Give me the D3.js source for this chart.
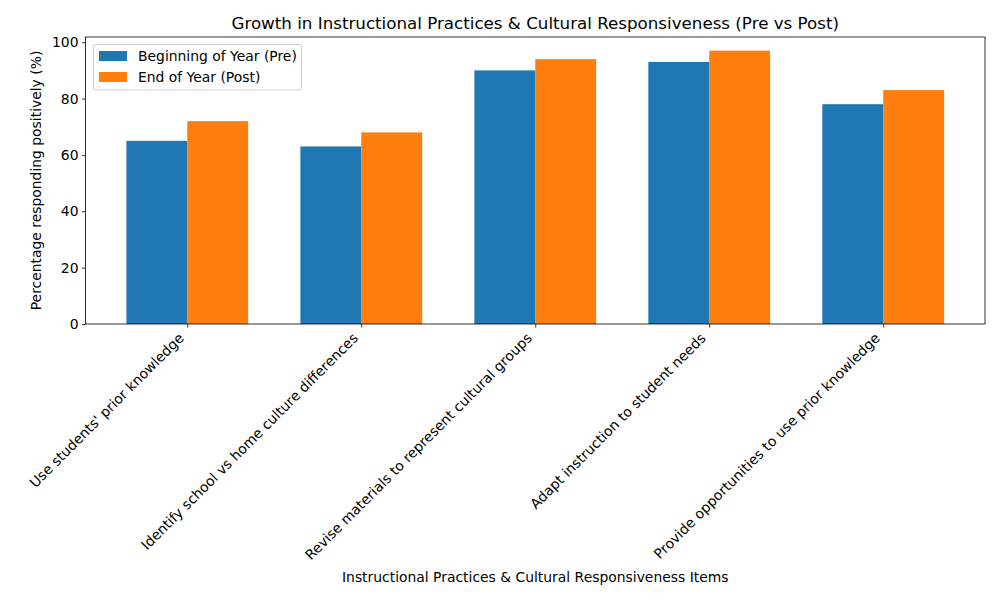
<!DOCTYPE html>
<html><head><meta charset="utf-8">
<script src="https://cdn.jsdelivr.net/npm/d3@7"></script>
<style>body{margin:0;background:#fff}svg{font-family:"DejaVu Sans",sans-serif}</style>
</head><body><svg id="c" width="1000" height="600"></svg>
<script>
const categories = ["Use students' prior knowledge","Identify school vs home culture differences","Revise materials to represent cultural groups","Adapt instruction to student needs","Provide opportunities to use prior knowledge"];
const preValues = [65, 63, 90, 93, 78];
const postValues = [72, 68, 94, 97, 83];
const seriesNames = ["Beginning of Year (Pre)", "End of Year (Post)"];
const colors = ["#1f77b4", "#ff7f0e"];
const yTicks = [0, 20, 40, 60, 80, 100];

const svg = d3.select("#c");
const L = 85.5, R = 985, T = 37, B = 324;
const bw = 0.35;
const x = d3.scaleLinear().domain([-0.585, 4.585]).range([L, R]);
const y = d3.scaleLinear().domain([0, 101.85]).range([B, T]);

const series = [preValues, postValues];
series.forEach((vals, s) => {
  svg.append("g").selectAll("rect").data(vals).join("rect")
    .attr("x", (d, i) => x(i + (s === 0 ? -bw : 0)))
    .attr("width", (d, i) => x(i + bw) - x(i))
    .attr("y", d => y(d))
    .attr("height", d => y(0) - y(d))
    .attr("fill", colors[s]);
});

// y axis
const ya = svg.append("g").attr("transform", `translate(${L},0)`)
  .call(d3.axisLeft(y).tickValues(yTicks).tickSize(3.5).tickPadding(3.5).tickSizeOuter(0));
ya.select(".domain").remove();
ya.selectAll("text").attr("font-size", 13.9).attr("fill", "#000").attr("font-family", "DejaVu Sans");
ya.selectAll("line").attr("stroke", "#000").attr("stroke-width", 0.8);

// x axis
const xa = svg.append("g").attr("transform", `translate(0,${B})`)
  .call(d3.axisBottom(x).tickValues(d3.range(categories.length)).tickFormat(i => categories[i]).tickSize(3.5).tickSizeOuter(0));
xa.select(".domain").remove();
xa.selectAll("line").attr("stroke", "#000").attr("stroke-width", 0.8);
xa.selectAll("text")
  .attr("font-size", 13.9).attr("fill", "#000").attr("font-family", "DejaVu Sans")
  .attr("text-anchor", "end").attr("dy", null)
  .attr("transform", "translate(-3,15) rotate(-45)")
  .attr("y", 0).attr("x", 0);

// frame
svg.append("rect").attr("x", L).attr("y", T).attr("width", R - L).attr("height", B - T)
  .attr("fill", "none").attr("stroke", "#000").attr("stroke-width", 0.8);

// title and labels
svg.append("text").attr("x", (L + R) / 2).attr("y", T - 8).attr("text-anchor", "middle")
  .attr("font-size", 16.7).text("Growth in Instructional Practices & Cultural Responsiveness (Pre vs Post)");
svg.append("text").attr("x", (L + R) / 2).attr("y", 582).attr("text-anchor", "middle")
  .attr("font-size", 13.9).text("Instructional Practices & Cultural Responsiveness Items");
svg.append("text").attr("transform", `translate(41,${(T + B) / 2}) rotate(-90)`).attr("text-anchor", "middle")
  .attr("font-size", 13.9).text("Percentage responding positively (%)");

// legend
const lg = svg.append("g");
lg.append("rect").attr("x", 93.5).attr("y", 44.5).attr("width", 208).attr("height", 45.5).attr("rx", 2)
  .attr("fill", "#fff").attr("fill-opacity", 0.8).attr("stroke", "#ccc").attr("stroke-width", 1);
seriesNames.forEach((n, i) => {
  lg.append("rect").attr("x", 99).attr("y", 51 + i * 21).attr("width", 28).attr("height", 10).attr("fill", colors[i]);
  lg.append("text").attr("x", 138).attr("y", 61 + i * 21).attr("font-size", 13.9).text(n);
});
</script></body></html>
